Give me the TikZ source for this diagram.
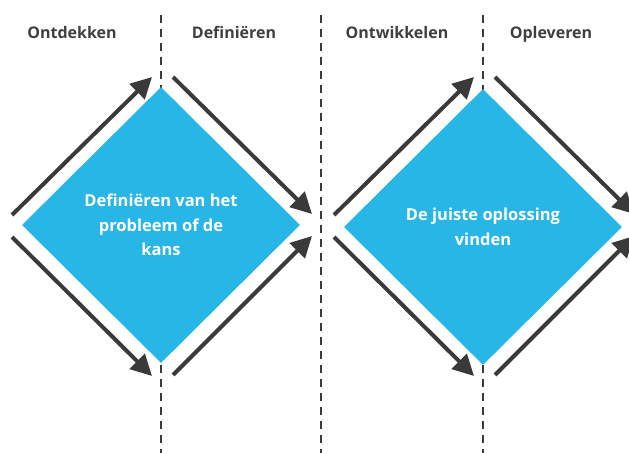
\documentclass[tikz,border=0pt]{standalone}
\usepackage{fontspec}
\setmainfont{Open Sans}
\usetikzlibrary{shapes.geometric,arrows.meta}
\definecolor{dcyan}{HTML}{27B6E6}
\definecolor{darrow}{HTML}{3A3A3A}
\definecolor{dtext}{HTML}{3F3F3F}
\begin{document}
\begin{tikzpicture}[x=1pt,y=1pt,
  phase/.style={font=\fontsize{16}{18}\selectfont\bfseries, text=dtext, anchor=base},
  dia/.style={diamond, fill=dcyan, inner sep=0pt, minimum width=278pt, minimum height=276pt,
    text=white, align=center, font=\fontsize{16.5}{24.5}\selectfont\bfseries},
  divider/.style={draw=darrow, line width=2.6pt, dash pattern=on 8pt off 6pt},
  flow/.style={draw=darrow, line width=4pt, -{Triangle[length=21pt,width=21pt]}}]
\useasboundingbox (0,0) rectangle (629,453);
\clip (0,0) rectangle (629,453);
% dividers
\foreach \x/\n in {161/a,321/b,483/c}{
  \coordinate (top\n) at (\x,438);
  \coordinate (bot\n) at (\x,0);
  \draw[divider] (top\n) -- (bot\n);
}
% headers
\node[phase] (h1) at (72,414) {Ontdekken};
\node[phase] (h2) at (234,414) {Definiëren};
\node[phase] (h3) at (397,414) {Ontwikkelen};
\node[phase] (h4) at (551,414) {Opleveren};
% diamonds
\node[dia] (d1) at (161,228) {Definiëren van het\\probleem of de\\kans};
\node[dia] (d2) at (483,226) {De juiste oplossing\\vinden};
% arrows
\foreach \s/\n in {0/a,322/b}{
  \coordinate (tls\n) at (12+\s,238);
  \coordinate (tle\n) at (152+\s,376);
  \coordinate (trs\n) at (173+\s,376);
  \coordinate (tre\n) at (312+\s,239);
  \coordinate (bls\n) at (12+\s,216);
  \coordinate (ble\n) at (152+\s,77);
  \coordinate (brs\n) at (173+\s,78);
  \coordinate (bre\n) at (312+\s,217);
  \draw[flow] (tls\n) -- (tle\n);
  \draw[flow] (trs\n) -- (tre\n);
  \draw[flow] (bls\n) -- (ble\n);
  \draw[flow] (brs\n) -- (bre\n);
}
\end{tikzpicture}
\end{document}
